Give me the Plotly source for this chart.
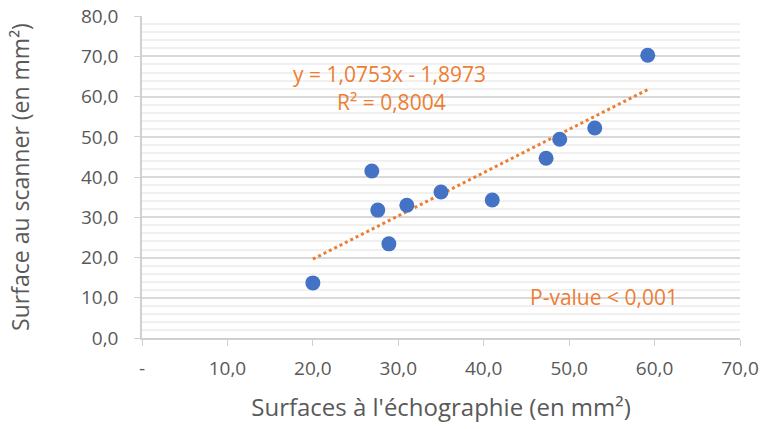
import numpy as np
import plotly.graph_objects as go

# Données
surface_echo = [20.0, 26.9, 27.6, 28.9, 31.0, 35.0, 41.0, 47.3, 48.9, 53.0, 59.2]
surface_scanner = [13.7, 41.5, 31.8, 23.4, 33.0, 36.3, 34.3, 44.7, 49.4, 52.2, 70.3]

# Courbe de tendance (Excel)
pente = 1.0753
ordonnee = -1.8973

x_ticks = [0, 10, 20, 30, 40, 50, 60, 70]
x_labels = ['-', '10,0', '20,0', '30,0', '40,0', '50,0', '60,0', '70,0']
y_ticks = [0, 10, 20, 30, 40, 50, 60, 70, 80]
y_labels = ['0,0', '10,0', '20,0', '30,0', '40,0', '50,0', '60,0', '70,0', '80,0']

orange = '#ED7D31'
bleu = '#4472C4'
gris = '#595959'
police = 'Open Sans'

x_tend = np.array([min(surface_echo), max(surface_echo)])
y_tend = pente * x_tend + ordonnee

fig = go.Figure()

fig.add_trace(go.Scatter(
    x=x_tend, y=y_tend,
    mode='lines',
    line=dict(color=orange, width=3, dash='dot'),
    showlegend=False
))

fig.add_trace(go.Scatter(
    x=surface_echo, y=surface_scanner,
    mode='markers',
    marker=dict(size=15, color=bleu),
    showlegend=False
))

fig.add_annotation(x=29.0, y=65.6, text='y = 1,0753x - 1,8973', showarrow=False,
                   font=dict(family=police, size=21, color=orange))
fig.add_annotation(x=29.2, y=58.6, text='R² = 0,8004', showarrow=False,
                   font=dict(family=police, size=21, color=orange))
fig.add_annotation(x=54.1, y=10.2, text='P-value < 0,001', showarrow=False,
                   font=dict(family=police, size=21, color=orange))

fig.update_layout(
    width=767, height=429,
    margin=dict(l=142, r=27, t=16, b=91),
    plot_bgcolor='white',
    paper_bgcolor='white',
    font=dict(family=police, color=gris),
    xaxis=dict(
        range=[0, 70],
        tickvals=x_ticks, ticktext=x_labels,
        showgrid=False, zeroline=False,
        showline=True, linecolor='#d0d0d0', linewidth=1.5,
        ticks='outside', ticklen=6, tickcolor='#d0d0d0',
        tickfont=dict(size=19, color=gris),
        ticklabelstandoff=6,
        ticklabeloverflow='allow',
        automargin=False,
        title=dict(text="Surfaces à l'échographie (en mm²)", font=dict(size=24, color=gris), standoff=20),
    ),
    yaxis=dict(
        range=[0, 80.05],
        tickvals=y_ticks, ticktext=y_labels,
        showgrid=True, gridcolor='#d9d9d9', gridwidth=1.5,
        zeroline=False,
        showline=True, linecolor='#d0d0d0', linewidth=1.5,
        ticks='outside', ticklen=6, tickcolor='#d0d0d0',
        tickfont=dict(size=19, color=gris),
        ticklabelstandoff=12,
        ticklabeloverflow='allow',
        automargin=False,
        minor=dict(dtick=2, showgrid=True, gridcolor='#f0f0f0', gridwidth=1.5),
        title=dict(text='Surface au scanner (en mm²)', font=dict(size=23, color=gris), standoff=45),
    ),
)

# sans la marge de 8 px du navigateur, sans barre d'outils
fig.write_html("out.html", config={'displayModeBar': False},
               post_script="document.body.style.margin='0';")
